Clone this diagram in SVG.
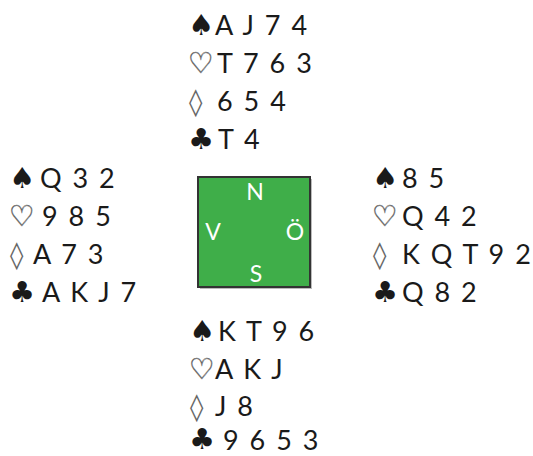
<svg xmlns="http://www.w3.org/2000/svg" width="533" height="456" viewBox="0 0 533 456">
<style>
.c{font-family:Lato,"Open Sans","Liberation Sans",sans-serif;font-size:27px;fill:#1a1a1a;letter-spacing:2px}
.s{font-family:"DejaVu Sans",sans-serif;font-size:29px;fill:#1a1a1a}
.o{font-family:"DejaVu Sans",sans-serif;font-size:29px;fill:#fff;stroke:#666;stroke-width:0.6}
.d{font-family:"DejaVu Sans",sans-serif;font-size:27px;fill:#666}
.b{font-family:Lato,"Open Sans","Liberation Sans",sans-serif;font-size:23px;fill:#fff;text-anchor:middle}
</style>
<rect width="533" height="456" fill="#fff"/>
<g id="north">
<text class="s" x="188" y="35">♠</text><text class="c" x="215" y="35">A J 7 4</text>
<text class="o" x="188" y="73">♡</text><text class="c" x="217" y="73">T 7 6 3</text>
<text class="d" x="189" y="111">◊</text><text class="c" x="217" y="111">6 5 4</text>
<text class="s" x="188" y="149">♣</text><text class="c" x="218" y="149">T 4</text>
</g>
<g id="west">
<text class="s" x="9" y="188">♠</text><text class="c" x="40" y="188">Q 3 2</text>
<text class="o" x="9" y="226">♡</text><text class="c" x="42" y="226">9 8 5</text>
<text class="d" x="10" y="264">◊</text><text class="c" x="33" y="264">A 7 3</text>
<text class="s" x="9" y="302">♣</text><text class="c" x="42" y="302">A K J 7</text>
</g>
<g id="east">
<text class="s" x="372" y="188">♠</text><text class="c" x="402" y="188">8 5</text>
<text class="o" x="372" y="226">♡</text><text class="c" x="402" y="226">Q 4 2</text>
<text class="d" x="373" y="264">◊</text><text class="c" x="402" y="264">K Q T 9 2</text>
<text class="s" x="372" y="302">♣</text><text class="c" x="402" y="302">Q 8 2</text>
</g>
<g id="south">
<text class="s" x="189" y="341">♠</text><text class="c" x="218" y="341">K T 9 6</text>
<text class="o" x="189" y="379">♡</text><text class="c" x="215" y="379">A K J</text>
<text class="d" x="190" y="416">◊</text><text class="c" x="215" y="416">J 8</text>
<text class="s" x="189" y="449">♣</text><text class="c" x="223" y="450">9 6 5 3</text>
</g>
<g id="table">
<rect x="200" y="179" width="112" height="110" fill="#bbb"/>
<rect x="198" y="177" width="112" height="110" fill="#3fae49" stroke="#333" stroke-width="2"/>
<text class="b" x="255" y="200">N</text>
<text class="b" x="213" y="240">V</text>
<text class="b" x="295" y="240">Ö</text>
<text class="b" x="256" y="282">S</text>
</g>
<g id="connectors"></g>
</svg>
